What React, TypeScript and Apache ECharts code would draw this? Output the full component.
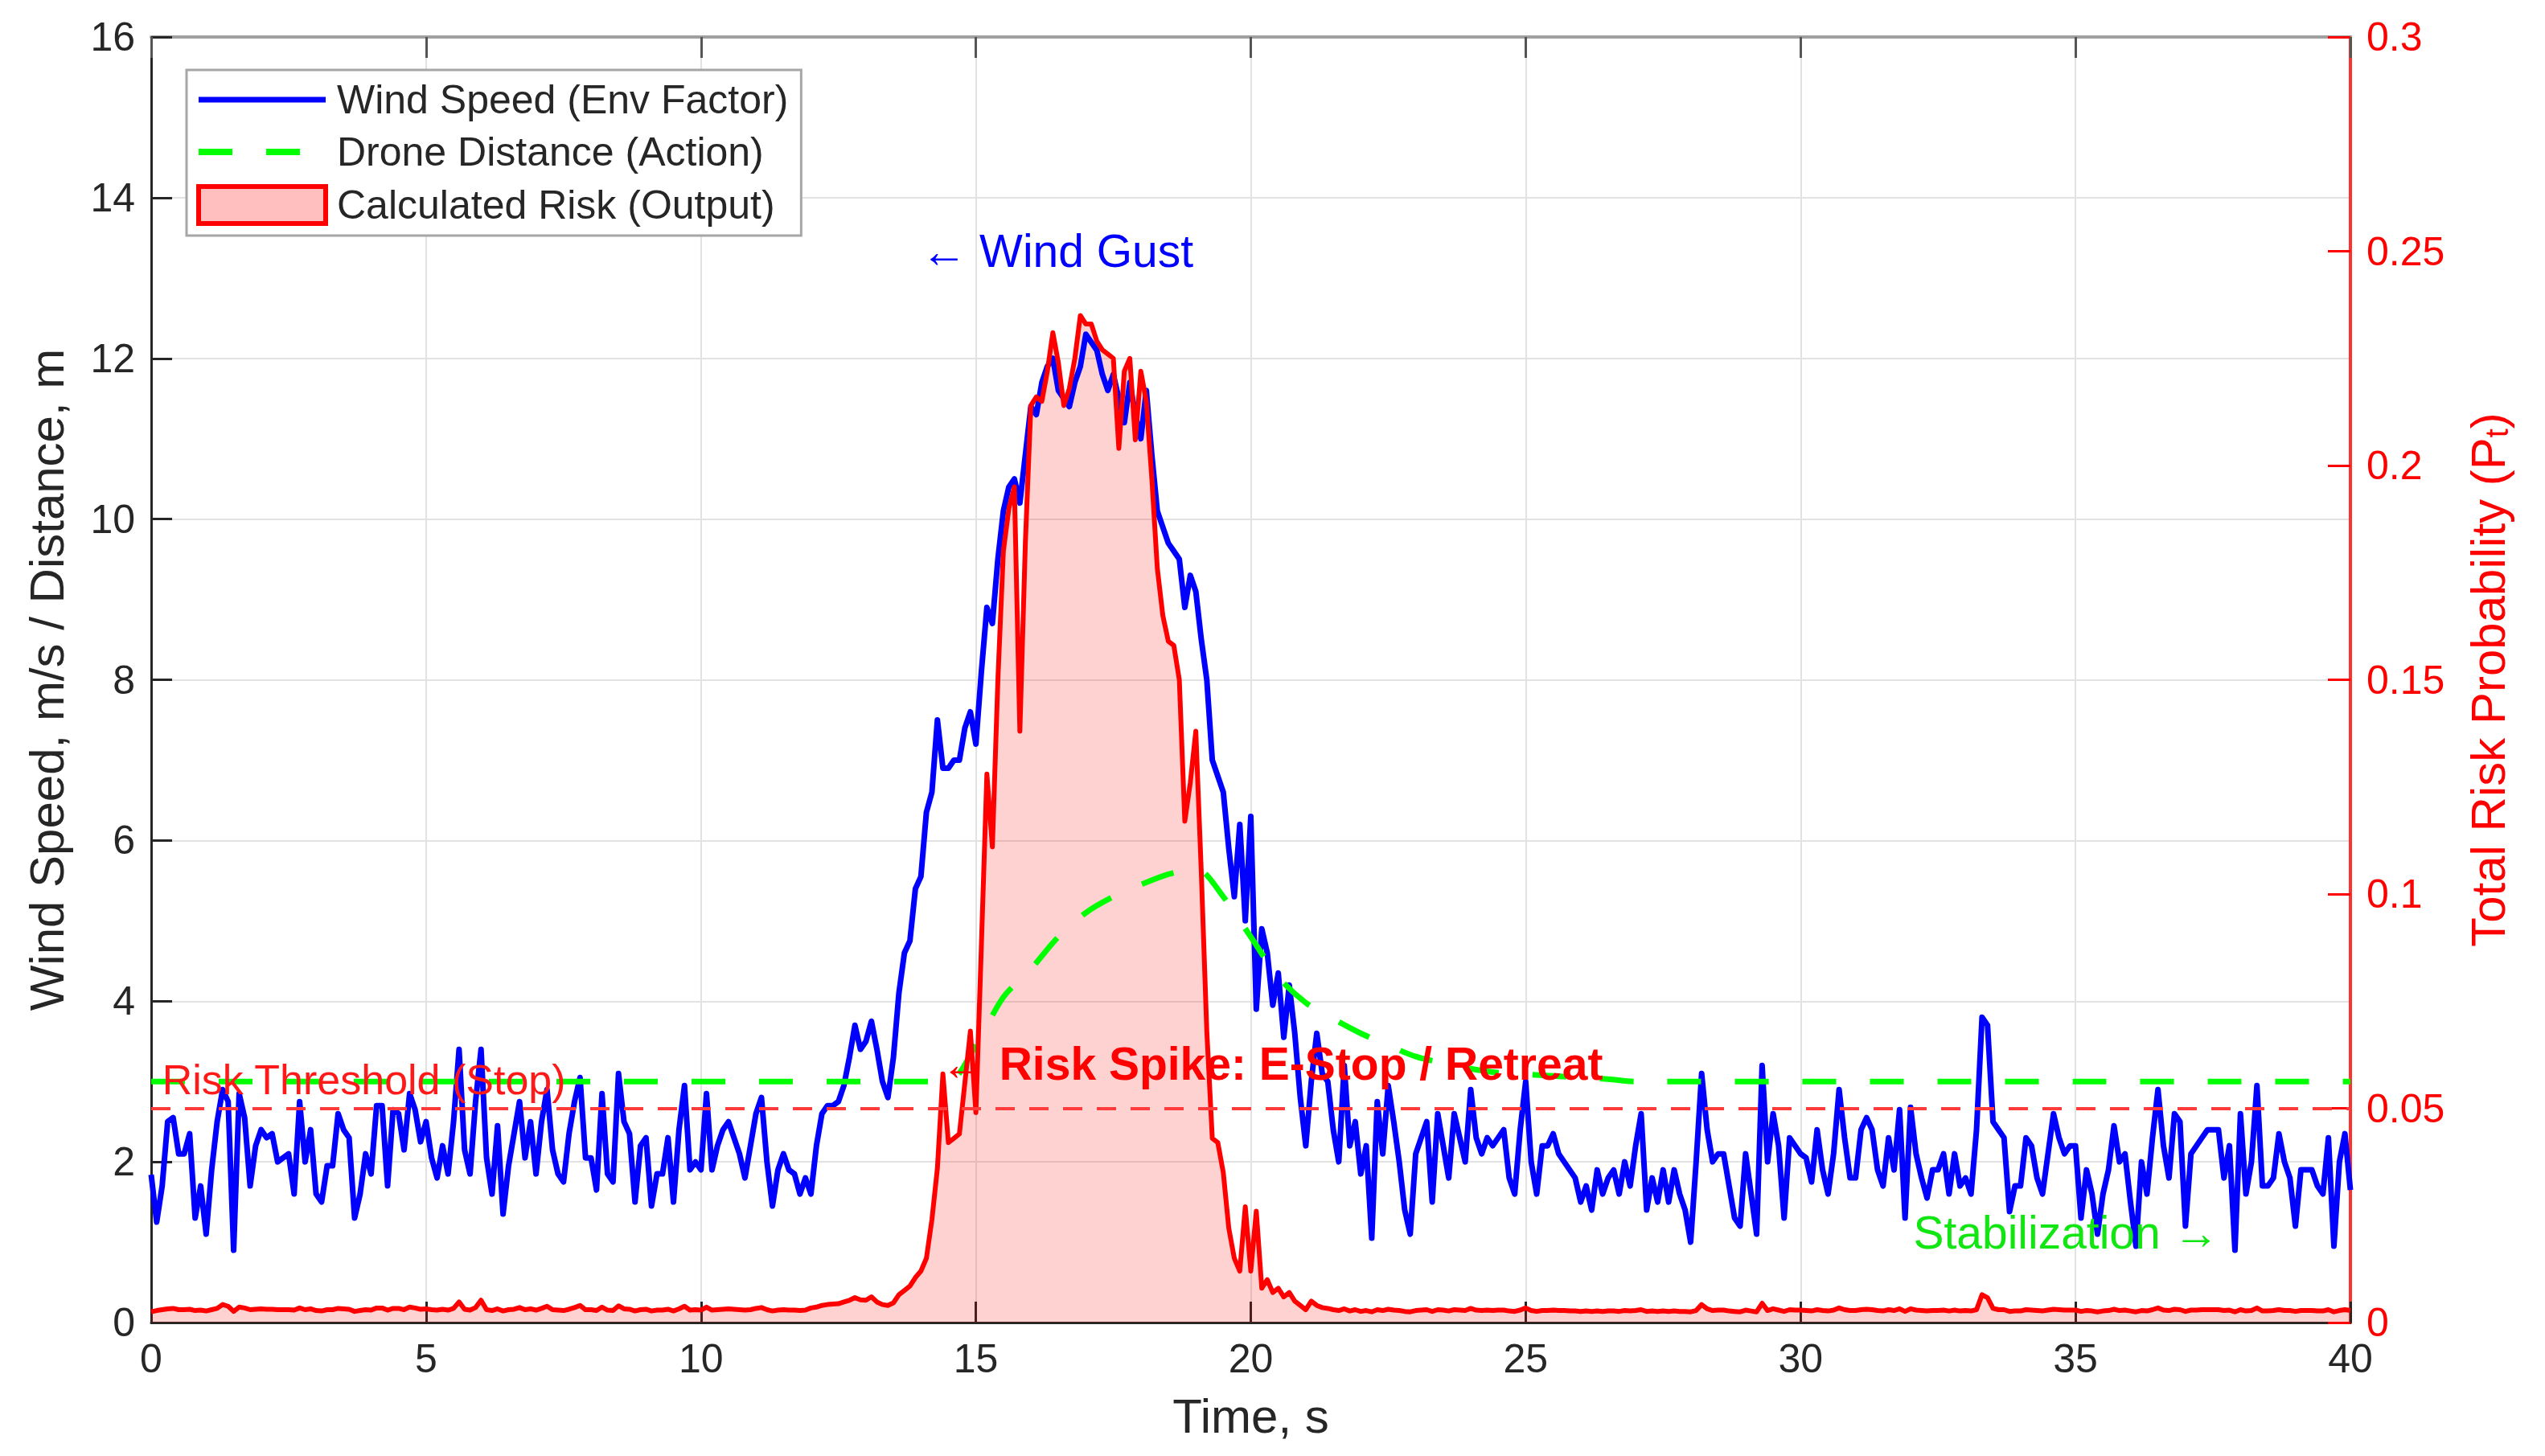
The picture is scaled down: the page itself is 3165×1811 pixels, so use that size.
import React, { useEffect, useRef } from "react";
import * as echarts from "echarts";

// ---------------- DATA ----------------
const TIME_STEP = 0.1; // s, sampling of wind and risk
const DIST_STEP = 0.5; // s, sampling of drone distance

// Wind speed (m/s), 0.0 .. 40.0 s
const windSpeed = [
  1.84, 1.25, 1.7, 2.5, 2.55, 2.1, 2.1, 2.35, 1.3, 1.7,
  1.1, 1.9, 2.5, 2.9, 2.75, 0.9, 2.85, 2.55, 1.7, 2.2,
  2.4, 2.3, 2.35, 2.0, 2.05, 2.1, 1.6, 2.75, 2.0, 2.4,
  1.6, 1.5, 1.95, 1.95, 2.6, 2.4, 2.3, 1.3, 1.6, 2.1,
  1.85, 2.7, 2.7, 1.7, 2.65, 2.6, 2.15, 2.85, 2.65, 2.25,
  2.5, 2.05, 1.8, 2.2, 1.85, 2.5, 3.4, 2.15, 1.85, 2.75,
  3.4, 2.05, 1.6, 2.45, 1.35, 1.95, 2.35, 2.75, 2.05, 2.5,
  1.85, 2.5, 2.9, 2.15, 1.85, 1.75, 2.35, 2.75, 3.05, 2.05,
  2.05, 1.65, 2.85, 1.85, 1.75, 3.1, 2.5, 2.35, 1.5, 2.2,
  2.3, 1.45, 1.85, 1.85, 2.3, 1.5, 2.4, 2.95, 1.9, 2.0,
  1.9, 2.85, 1.9, 2.2, 2.4, 2.5, 2.3, 2.1, 1.8, 2.2,
  2.6, 2.8, 2.0, 1.45, 1.9, 2.1, 1.9, 1.85, 1.6, 1.8,
  1.6, 2.2, 2.6, 2.7, 2.7, 2.75, 2.95, 3.3, 3.7, 3.4,
  3.5, 3.75, 3.4, 3.0, 2.8, 3.3, 4.1, 4.6, 4.75, 5.4,
  5.55, 6.35, 6.6, 7.5, 6.9, 6.9, 7.0, 7.0, 7.4, 7.6,
  7.2, 8.1, 8.9, 8.7, 9.5, 10.1, 10.4, 10.5, 10.2, 10.8,
  11.4, 11.3, 11.7, 11.9, 12.0, 11.6, 11.5, 11.4, 11.7, 11.9,
  12.3, 12.2, 12.1, 11.8, 11.6, 11.8, 11.5, 11.2, 11.7, 11.3,
  11.0, 11.6, 10.8, 10.1, 9.9, 9.7, 9.6, 9.5, 8.9, 9.3,
  9.1, 8.5, 8.0, 7.0, 6.8, 6.6, 5.9, 5.3, 6.2, 5.0,
  6.3, 3.9, 4.9, 4.6, 3.95, 4.35, 3.55, 4.2, 3.6, 2.8,
  2.2, 3.0, 3.6, 3.1, 3.0, 2.4, 2.0, 3.2, 2.2, 2.5,
  1.85, 2.2, 1.05, 2.75, 2.1, 2.95, 2.5, 2.0, 1.4, 1.1,
  2.1, 2.3, 2.5, 1.5, 2.6, 2.2, 1.8, 2.6, 2.3, 2.0,
  2.9, 2.3, 2.1, 2.3, 2.2, 2.3, 2.4, 1.8, 1.6, 2.4,
  3.0, 2.0, 1.6, 2.2, 2.2, 2.35, 2.1, 2.0, 1.9, 1.8,
  1.5, 1.7, 1.4, 1.9, 1.6, 1.8, 1.9, 1.6, 2.0, 1.7,
  2.2, 2.6, 1.4, 1.8, 1.5, 1.9, 1.5, 1.9, 1.6, 1.4,
  1.0, 2.0, 3.1, 2.4, 2.0, 2.1, 2.1, 1.7, 1.3, 1.2,
  2.1, 1.6, 1.1, 3.2, 2.0, 2.6, 2.2, 1.3, 2.3, 2.2,
  2.1, 2.05, 1.75, 2.4, 1.9, 1.6, 2.1, 2.9, 2.3, 1.8,
  1.8, 2.4, 2.55, 2.4, 1.9, 1.7, 2.3, 1.9, 2.65, 1.3,
  2.68, 2.1, 1.8, 1.55, 1.9, 1.9, 2.1, 1.6, 2.1, 1.7,
  1.8, 1.6, 2.4, 3.8, 3.7, 2.5, 2.4, 2.3, 1.38, 1.7,
  1.7, 2.3, 2.2, 1.8, 1.6, 2.1, 2.6, 2.3, 2.1, 2.2,
  2.2, 1.3, 1.9, 1.6, 1.1, 1.6, 1.9, 2.45, 2.0, 2.1,
  1.5, 0.95, 2.0, 1.6, 2.3, 2.9, 2.2, 1.8, 2.6, 2.5,
  1.2, 2.1, 2.2, 2.3, 2.4, 2.4, 2.4, 1.8, 2.2, 0.9,
  2.6, 1.6, 2.0, 2.95, 1.7, 1.7, 1.8, 2.35, 2.0, 1.8,
  1.2, 1.9, 1.9, 1.9, 1.7, 1.6, 2.3, 0.95, 2.0, 2.35,
  1.65,
];

// Total risk probability, 0.0 .. 40.0 s
const riskProb = [
  0.0025, 0.0028, 0.003, 0.0032, 0.0033, 0.003, 0.003, 0.0031, 0.0028, 0.0029,
  0.0027, 0.003, 0.0033, 0.0042, 0.0038, 0.0026, 0.0036, 0.0034, 0.003, 0.0031,
  0.0032, 0.0031, 0.0031, 0.003, 0.003, 0.003, 0.0029, 0.0034, 0.003, 0.0032,
  0.0028, 0.0027, 0.003, 0.003, 0.0033, 0.0032, 0.0031, 0.0026, 0.0028, 0.003,
  0.0029, 0.0034, 0.0034, 0.0029, 0.0033, 0.0033, 0.003, 0.0036, 0.0034, 0.0031,
  0.0032, 0.003, 0.0029, 0.0031, 0.0029, 0.0033, 0.0048, 0.0031, 0.0029, 0.0035,
  0.0052, 0.003, 0.0028, 0.0032, 0.0027, 0.003, 0.0031, 0.0035, 0.003, 0.0032,
  0.0029, 0.0033, 0.0038, 0.003, 0.0029, 0.0028, 0.0031, 0.0035, 0.004, 0.003,
  0.003, 0.0028, 0.0036, 0.0029, 0.0028, 0.0039, 0.0032, 0.0031, 0.0027, 0.003,
  0.0031, 0.0027, 0.0029, 0.0029, 0.0031, 0.0027, 0.0032, 0.0038, 0.0029, 0.003,
  0.0029, 0.0036, 0.0029, 0.003, 0.0031, 0.0032, 0.0031, 0.003, 0.0029, 0.003,
  0.0033, 0.0035, 0.003, 0.0027, 0.0029, 0.003, 0.0029, 0.0029, 0.0028, 0.0029,
  0.0034, 0.0036, 0.004, 0.0042, 0.0043, 0.0044, 0.0048, 0.0052, 0.0058, 0.0053,
  0.0052, 0.006, 0.0048, 0.0042, 0.004, 0.0046, 0.0065, 0.0075, 0.0085, 0.0105,
  0.012, 0.015, 0.024, 0.036, 0.058, 0.042, 0.043, 0.044, 0.056, 0.068,
  0.049, 0.088, 0.128, 0.111, 0.15, 0.18, 0.19, 0.195, 0.138, 0.182,
  0.214, 0.216, 0.215, 0.222, 0.231, 0.224, 0.214, 0.218, 0.225, 0.235,
  0.233, 0.233, 0.229, 0.227, 0.226, 0.225, 0.204, 0.222, 0.225, 0.206,
  0.222, 0.215, 0.197, 0.176, 0.165, 0.159, 0.158, 0.15, 0.117, 0.126,
  0.138, 0.105, 0.068, 0.043, 0.042, 0.035, 0.022, 0.015, 0.012, 0.027,
  0.012, 0.026, 0.008, 0.01, 0.007, 0.008, 0.006, 0.007, 0.005, 0.004,
  0.003, 0.005, 0.004, 0.0035, 0.0033, 0.003, 0.0028, 0.0032, 0.0027, 0.003,
  0.0026, 0.0028, 0.0025, 0.003, 0.0028, 0.0031, 0.0029, 0.0028, 0.0026, 0.0025,
  0.0028, 0.0029, 0.003, 0.0026, 0.003, 0.0029, 0.0027, 0.003, 0.0029, 0.0028,
  0.0033, 0.0029, 0.0028, 0.0029, 0.0028, 0.0029, 0.0029, 0.0027, 0.0026, 0.0029,
  0.0034, 0.0028, 0.0026, 0.0028, 0.0028, 0.0029, 0.0028, 0.0028, 0.0027, 0.0027,
  0.0026, 0.0027, 0.0026, 0.0027, 0.0026, 0.0027, 0.0027, 0.0026, 0.0028, 0.0027,
  0.0028, 0.003, 0.0026, 0.0027, 0.0026, 0.0027, 0.0026, 0.0027, 0.0026, 0.0026,
  0.0025, 0.0028, 0.0042, 0.0032, 0.0028, 0.0029, 0.0029, 0.0027, 0.0026, 0.0025,
  0.0029, 0.0027, 0.0025, 0.0045, 0.0028, 0.0032, 0.0029, 0.0026, 0.003, 0.0029,
  0.0029, 0.0028, 0.0027, 0.003, 0.0028, 0.0027, 0.0029, 0.0034, 0.003, 0.0028,
  0.0028, 0.003, 0.0031, 0.003, 0.0028, 0.0027, 0.003, 0.0028, 0.0032, 0.0026,
  0.0032, 0.0029, 0.0028, 0.0027, 0.0028, 0.0028, 0.0029, 0.0027, 0.0029, 0.0027,
  0.0028, 0.0027, 0.003, 0.0065, 0.0058, 0.0033, 0.003, 0.003, 0.0026, 0.0027,
  0.0027, 0.003, 0.0029, 0.0028, 0.0027, 0.0029, 0.0031, 0.003, 0.0029, 0.0029,
  0.0029, 0.0026, 0.0028, 0.0027, 0.0025, 0.0027, 0.0028, 0.0031, 0.0028, 0.0029,
  0.0027, 0.0025, 0.0028, 0.0027, 0.003, 0.0034, 0.0029, 0.0028, 0.0031, 0.003,
  0.0026, 0.0029, 0.0029, 0.003, 0.003, 0.003, 0.003, 0.0028, 0.0029, 0.0025,
  0.003, 0.0027, 0.0028, 0.0034, 0.0027, 0.0027, 0.0028, 0.003, 0.0028, 0.0028,
  0.0026, 0.0028, 0.0028, 0.0028, 0.0027, 0.0027, 0.003, 0.0025, 0.0028, 0.003,
  0.0028,
];

// Drone distance (m), 0.0 .. 40.0 s every 0.5 s
const droneDistance = [
  3.0, 3.0, 3.0, 3.0, 3.0, 3.0, 3.0, 3.0, 3.0, 3.0,
  3.0, 3.0, 3.0, 3.0, 3.0, 3.0, 3.0, 3.0, 3.0, 3.0,
  3.0, 3.0, 3.0, 3.0, 3.0, 3.0, 3.0, 3.0, 3.0, 3.0,
  3.45, 4.05, 4.4, 4.8, 5.1, 5.3, 5.45, 5.58, 5.65, 5.3,
  4.8, 4.3, 3.98, 3.78, 3.6, 3.45, 3.31, 3.23, 3.16, 3.11,
  3.09, 3.07, 3.05, 3.03,
  3.0, 3.0, 3.0, 3.0, 3.0, 3.0, 3.0, 3.0, 3.0, 3.0,
  3.0, 3.0, 3.0, 3.0, 3.0, 3.0, 3.0, 3.0, 3.0, 3.0,
  3.0, 3.0, 3.0, 3.0, 3.0, 3.0, 3.0,
];

const RISK_THRESHOLD = 0.05;

const seriesNames = [
  "Wind Speed (Env Factor)",
  "Drone Distance (Action)",
  "Calculated Risk (Output)",
];

const xAxisRange = { min: 0, max: 40, interval: 5 };
const leftAxisRange = { min: 0, max: 16, interval: 2 };
const rightAxisRange = { min: 0, max: 0.3, interval: 0.05 };

// text annotations, anchored at [time, left-axis value] (left edge of text)
const annotationTexts = [
  "← Wind Gust",
  "← Risk Spike: E-Stop / Retreat",
  "Risk Threshold (Stop)",
  "Stabilization →",
];
const annotationAnchors = [
  [14.0, 13.34],
  [14.36, 3.22],
  [0.2, 3.02],
  [32.05, 1.12],
];

// ---------------- CHART ----------------
const FONT = '"Liberation Sans", Arial, Helvetica, sans-serif';
const DARK = "#262626";
const BLUE = "#0000ff";
const GREEN = "#00ff00";
const RED = "#ff0000";
const GREEN_DASH = [42, 42];

const annotationStyles = [
  { color: BLUE, fontSize: 57, fontWeight: "normal" },
  { color: RED, fontSize: 57, fontWeight: "bold" },
  { color: "#ff1a1a", fontSize: 52, fontWeight: "normal" },
  { color: "#12e612", fontSize: 57, fontWeight: "normal" },
];

function round1(v: number) {
  return Math.round(v * 10) / 10;
}

export default function App() {
  const ref = useRef<HTMLDivElement>(null);

  useEffect(() => {
    if (!ref.current) return;
    const chart = echarts.init(ref.current, undefined, { renderer: "svg" });

    const windData = windSpeed.map((v, i) => [round1(i * TIME_STEP), v]);
    const riskData = riskProb.map((v, i) => [round1(i * TIME_STEP), v]);
    const distData = droneDistance.map((v, i) => [round1(i * DIST_STEP), v]);

    const option: any = {
      animation: false,
      backgroundColor: "#ffffff",
      textStyle: { fontFamily: FONT },
      grid: { left: 188, right: 242, top: 46, bottom: 166, containLabel: false },
      legend: {
        left: 232,
        top: 87,
        orient: "vertical",
        backgroundColor: "#ffffff",
        borderColor: "#a6a6a6",
        borderWidth: 3,
        borderRadius: 0,
        padding: [12, 16, 12, 11],
        itemWidth: 158,
        itemHeight: 46,
        itemGap: 15,
        selectedMode: false,
        textStyle: { fontSize: 50, color: DARK, fontFamily: FONT, padding: [0, 0, 0, 9] },
        data: [
          {
            name: seriesNames[0],
            itemStyle: { opacity: 0 },
            lineStyle: { color: BLUE, width: 7, type: "solid" },
          },
          {
            name: seriesNames[1],
            itemStyle: { opacity: 0 },
            lineStyle: { color: GREEN, width: 8, type: GREEN_DASH },
          },
          {
            name: seriesNames[2],
            icon: "rect",
            itemStyle: { color: "rgba(255,0,0,0.25)", borderColor: RED, borderWidth: 6 },
          },
        ],
      },
      xAxis: [
        {
          type: "value",
          ...xAxisRange,
          name: "Time, s",
          nameLocation: "middle",
          nameGap: 86,
          nameTextStyle: { fontSize: 60, color: DARK, fontFamily: FONT },
          axisLine: { show: true, onZero: false, lineStyle: { color: DARK, width: 3 } },
          axisTick: { show: true, inside: true, length: 26, lineStyle: { color: DARK, width: 3 } },
          axisLabel: { fontSize: 50, color: DARK, margin: 20, fontFamily: FONT },
          splitLine: { show: true, lineStyle: { color: "#e2e2e2", width: 2 } },
        },
        {
          type: "value",
          position: "top",
          ...xAxisRange,
          axisLine: { show: true, onZero: false, lineStyle: { color: "#a0a0a0", width: 4 } },
          axisTick: { show: true, inside: true, length: 26, lineStyle: { color: "#555555", width: 3 } },
          axisLabel: { show: false },
          splitLine: { show: false },
        },
      ],
      yAxis: [
        {
          type: "value",
          ...leftAxisRange,
          name: "Wind Speed, m/s / Distance, m",
          nameLocation: "middle",
          nameGap: 100,
          nameTextStyle: { fontSize: 60, color: DARK, fontFamily: FONT },
          axisLine: { show: true, onZero: false, lineStyle: { color: DARK, width: 3 } },
          axisTick: { show: true, inside: true, length: 26, lineStyle: { color: DARK, width: 3 } },
          axisLabel: { fontSize: 50, color: DARK, margin: 20, fontFamily: FONT },
          splitLine: { show: true, lineStyle: { color: "#e2e2e2", width: 2 } },
        },
        {
          type: "value",
          position: "right",
          ...rightAxisRange,
          name: "Total Risk Probability (P{sub|t})",
          nameLocation: "middle",
          nameGap: 140,
          nameTextStyle: {
            fontSize: 60,
            color: RED,
            fontFamily: FONT,
            rich: { sub: { fontSize: 40, color: RED, fontFamily: FONT, padding: [22, 0, 0, 0] } },
          },
          axisLine: { show: true, onZero: false, lineStyle: { color: "#ff3030", width: 4 } },
          axisTick: { show: true, inside: true, length: 28, lineStyle: { color: RED, width: 3 } },
          axisLabel: { fontSize: 50, color: RED, margin: 20, fontFamily: FONT },
          splitLine: { show: false },
        },
      ],
      series: [
        {
          name: seriesNames[0],
          type: "line",
          xAxisIndex: 0,
          yAxisIndex: 0,
          data: windData,
          symbol: "none",
          showSymbol: false,
          lineStyle: { color: BLUE, width: 7, join: "round" },
          itemStyle: { color: BLUE },
          markPoint: {
            silent: true,
            symbol: "circle",
            symbolSize: 0,
            itemStyle: { color: "transparent" },
            data: annotationTexts.map((t, i) => ({
              coord: annotationAnchors[i],
              label: {
                show: true,
                position: "right",
                distance: 0,
                formatter: t,
                fontFamily: FONT,
                ...annotationStyles[i],
              },
            })),
          },
        },
        {
          name: seriesNames[1],
          type: "line",
          xAxisIndex: 0,
          yAxisIndex: 0,
          data: distData,
          symbol: "none",
          showSymbol: false,
          smooth: 0.3,
          lineStyle: { color: GREEN, width: 7, type: GREEN_DASH },
          itemStyle: { color: GREEN },
        },
        {
          name: seriesNames[2],
          type: "line",
          xAxisIndex: 0,
          yAxisIndex: 1,
          data: riskData,
          symbol: "none",
          showSymbol: false,
          lineStyle: { color: RED, width: 6, join: "round" },
          itemStyle: { color: RED },
          areaStyle: { color: "rgba(255,0,0,0.25)", origin: "start" },
          markLine: {
            silent: true,
            symbol: ["none", "none"],
            label: { show: false },
            lineStyle: { color: "#ff3b3b", width: 4, type: [24, 18] },
            data: [{ yAxis: RISK_THRESHOLD }],
          },
        },
      ],
    };

    chart.setOption(option);
    return () => chart.dispose();
  }, []);

  return (
    <div
      ref={ref}
      style={{ position: "absolute", left: 0, top: 0, width: 3165, height: 1811, background: "#fff" }}
    />
  );
}
